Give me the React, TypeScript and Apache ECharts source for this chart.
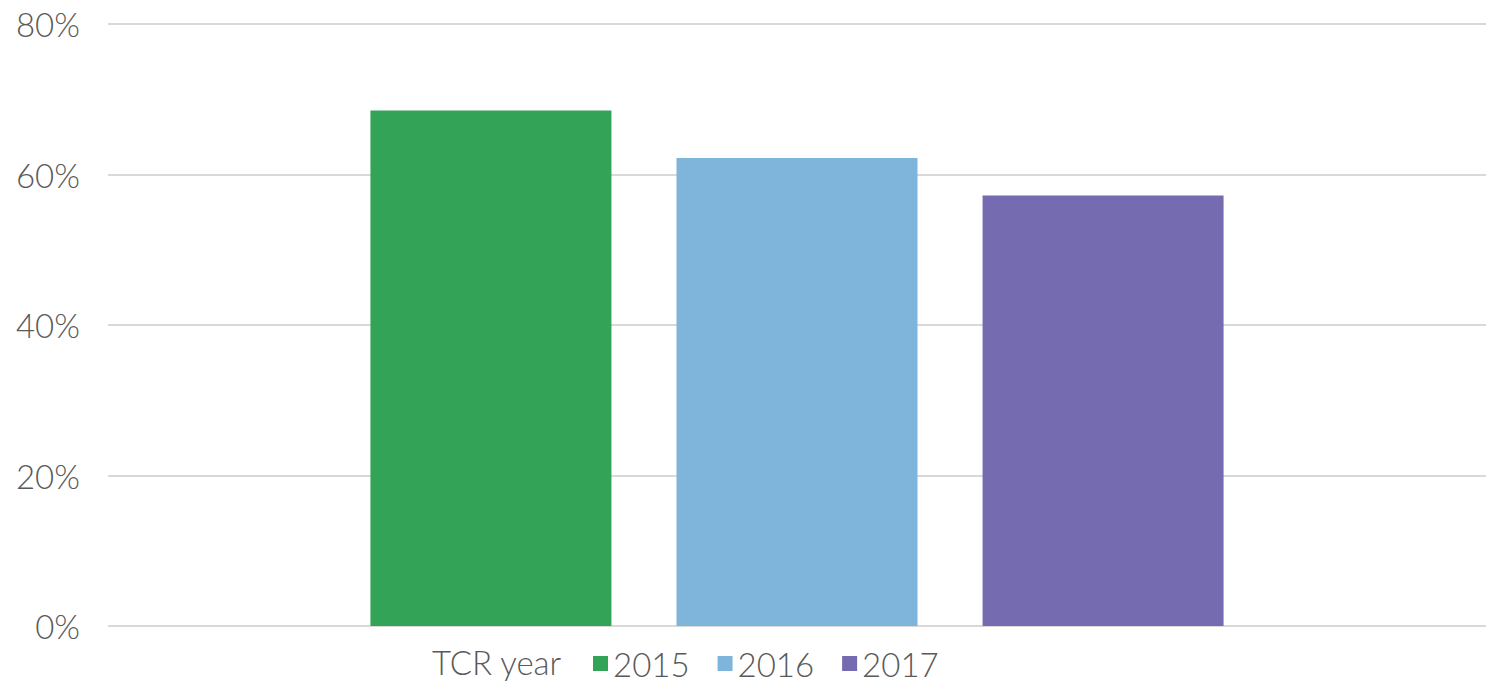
import React, { useEffect, useRef } from "react";
import * as echarts from "echarts";

const categories = ["TCR"];
const seriesNames = ["2015", "2016", "2017"];
const seriesValues = [[68.5], [62.2], [57.2]];
const seriesColors = ["#33A457", "#7FB4DB", "#756BB0"];
const yTicks = [0, 20, 40, 60, 80];
const legendTitle = "TCR year";

export default function App() {
  const ref = useRef<HTMLDivElement>(null);
  useEffect(() => {
    if (!ref.current) return;
    const chart = echarts.init(ref.current, null, { renderer: "svg" });
    const font = "Lato, 'Noto Sans', sans-serif";
    chart.setOption({
      animation: false,
      grid: { left: 108, width: 1385, top: 24, bottom: 56, containLabel: false },
      xAxis: {
        type: "category",
        data: categories,
        axisLine: { show: false },
        axisTick: { show: false },
        axisLabel: { show: false },
      },
      yAxis: {
        type: "value",
        min: yTicks[0],
        max: yTicks[yTicks.length - 1],
        interval: 20,
        axisLine: { show: false },
        axisTick: { show: false },
        axisLabel: {
          formatter: "{value}%",
          color: "#595959",
          fontSize: 33,
          fontFamily: font,
          fontWeight: 300,
          margin: 28,
        },
        splitLine: { lineStyle: { color: "#D9D9D9", width: 2 } },
      },
      legend: {
        data: seriesNames,
        left: 593,
        top: 647,
        padding: 0,
        icon: "rect",
        itemWidth: 15,
        itemHeight: 15,
        itemGap: 28,
        textStyle: { color: "#595959", fontSize: 33, lineHeight: 33, fontFamily: font, fontWeight: 300 },
      },
      graphic: [
        {
          type: "text",
          x: 432,
          y: 662,
          style: {
            text: legendTitle,
            fill: "#595959",
            fontSize: 33,
            fontFamily: font,
            fontWeight: 300,
            verticalAlign: "middle",
          },
        },
      ],
      series: seriesNames.map((name, i) => ({
        name,
        type: "bar",
        data: seriesValues[i],
        barWidth: 241,
        barGap: "27%",
        itemStyle: { color: seriesColors[i] },
      })),
    });
    return () => chart.dispose();
  }, []);
  return <div ref={ref} style={{ width: 1486, height: 682, position: "absolute", left: 0, top: 0 }} />;
}
